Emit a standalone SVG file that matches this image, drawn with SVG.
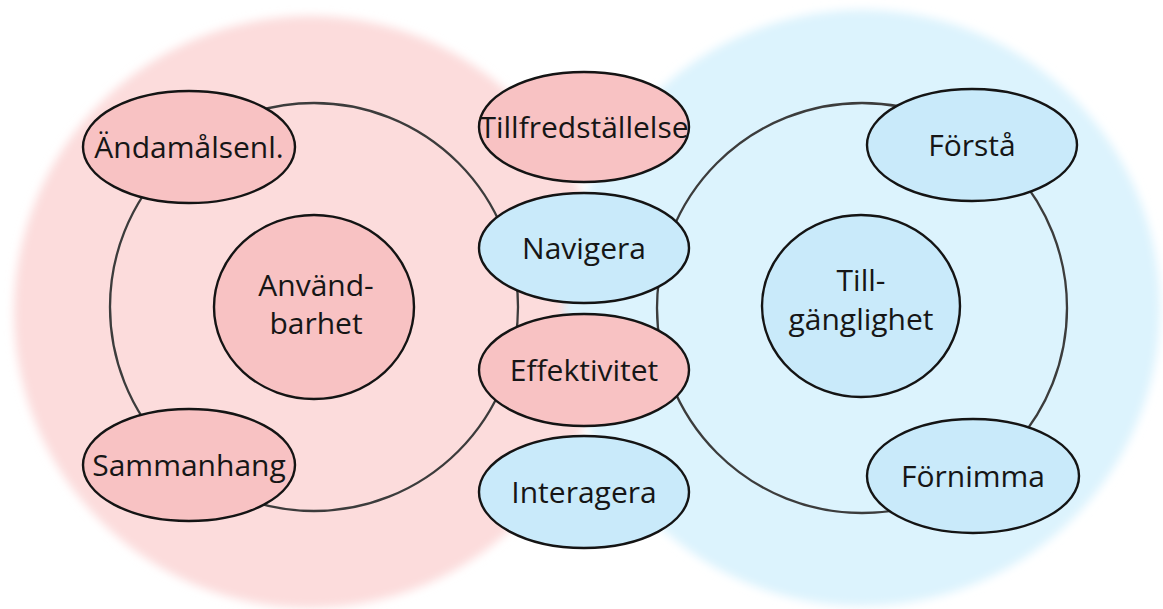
<svg xmlns="http://www.w3.org/2000/svg" width="1163" height="609" viewBox="0 0 1163 609">
  <defs>
    <filter id="soft" x="-10%" y="-10%" width="120%" height="120%">
      <feGaussianBlur stdDeviation="5"/>
    </filter>
    <style>
      .pink { fill: #f8c2c3; stroke: #141414; stroke-width: 2.4; }
      .blue { fill: #c9eafa; stroke: #141414; stroke-width: 2.4; }
      .ring { fill: none; stroke: #3c3c3c; stroke-width: 2.3; }
      .lbl { font-family: "Open Sans", "Noto Sans", "Liberation Sans", sans-serif; font-size: 30px; fill: #161616; text-anchor: middle; }
    </style>
  </defs>
  <rect width="1163" height="609" fill="#ffffff"/>
  <g id="background">
    <circle cx="310" cy="312" r="296" fill="#fcdcdc" filter="url(#soft)"/>
    <circle cx="862" cy="308" r="298" fill="#dcf3fd" filter="url(#soft)"/>
  </g>
  <g id="connectors">
    <circle class="ring" cx="314" cy="307" r="204"/>
    <circle class="ring" cx="862" cy="308" r="205"/>
  </g>
  <g id="anvandbarhet">
    <ellipse class="pink" cx="314" cy="307" rx="100" ry="92"/>
    <text class="lbl" x="316" y="296">Använd-</text>
    <text class="lbl" x="316" y="334">barhet</text>
  </g>
  <g id="tillganglighet">
    <ellipse class="blue" cx="861" cy="306" rx="99" ry="91"/>
    <text class="lbl" x="861" y="291">Till-</text>
    <text class="lbl" x="861" y="330">gänglighet</text>
  </g>
  <g id="andamalsenl">
    <ellipse class="pink" cx="189" cy="147" rx="106" ry="56"/>
    <text class="lbl" x="189" y="158">Ändamålsenl.</text>
  </g>
  <g id="sammanhang">
    <ellipse class="pink" cx="189" cy="465" rx="106" ry="56"/>
    <text class="lbl" x="189" y="476">Sammanhang</text>
  </g>
  <g id="tillfredstallelse">
    <ellipse class="pink" cx="584" cy="127" rx="105" ry="55"/>
    <text class="lbl" x="584" y="138">Tillfredställelse</text>
  </g>
  <g id="navigera">
    <ellipse class="blue" cx="584" cy="248" rx="105" ry="55"/>
    <text class="lbl" x="584" y="259">Navigera</text>
  </g>
  <g id="effektivitet">
    <ellipse class="pink" cx="584" cy="370" rx="105" ry="56"/>
    <text class="lbl" x="584" y="381">Effektivitet</text>
  </g>
  <g id="interagera">
    <ellipse class="blue" cx="584" cy="492" rx="105" ry="56"/>
    <text class="lbl" x="584" y="503">Interagera</text>
  </g>
  <g id="forsta">
    <ellipse class="blue" cx="972" cy="145" rx="105" ry="56"/>
    <text class="lbl" x="972" y="156">Förstå</text>
  </g>
  <g id="fornimma">
    <ellipse class="blue" cx="973" cy="476" rx="106" ry="57"/>
    <text class="lbl" x="973" y="487">Förnimma</text>
  </g>
</svg>
